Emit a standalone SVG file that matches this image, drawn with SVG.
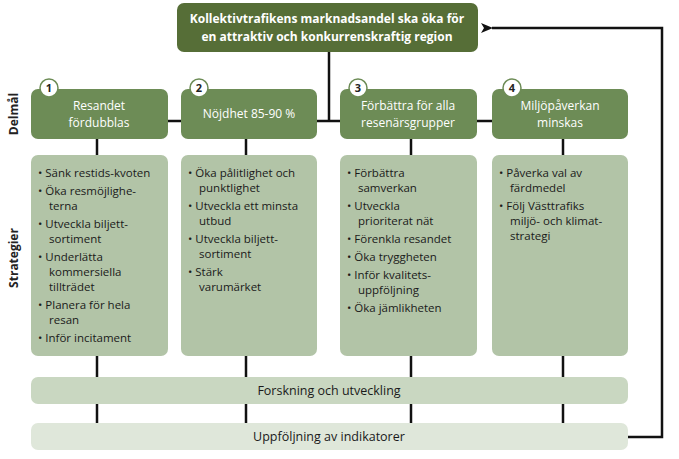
<svg xmlns="http://www.w3.org/2000/svg" width="679" height="459" viewBox="0 0 679 459">
<style>
text{font-family:"Open Sans","Noto Sans",sans-serif;}
.t{fill:#fff;font-size:12px;text-anchor:middle}
.s{fill:#1a1a1a;font-size:11.5px}
.g{fill:#6d8c56}
.st{fill:#b2c4a7}
.num{fill:#fff;stroke:#6d8c56;stroke-width:1.5}
.n{font-size:11px;font-weight:bold;text-anchor:middle;fill:#222}
.ln{stroke:#111;stroke-width:2.5;fill:none}
.lab{font-size:12px;font-weight:bold;fill:#222;text-anchor:middle}
</style>
<defs><marker id="ar" markerWidth="12" markerHeight="10" refX="1" refY="5" orient="auto" markerUnits="userSpaceOnUse"><path d="M12,0 L0,5 L12,10 L9,5z" fill="#111"/></marker></defs>
<g id="connectors">
<line class="ln" x1="329" y1="52" x2="329" y2="121"/>
<line class="ln" x1="168" y1="121" x2="492" y2="121"/>
<line class="ln" x1="97" y1="139" x2="97" y2="155"/>
<line class="ln" x1="246" y1="139" x2="246" y2="155"/>
<line class="ln" x1="411" y1="139" x2="411" y2="155"/>
<line class="ln" x1="563" y1="139" x2="563" y2="155"/>
<g>
<line class="ln" x1="97" y1="356" x2="97" y2="377"/><line class="ln" x1="246" y1="356" x2="246" y2="377"/><line class="ln" x1="411" y1="356" x2="411" y2="377"/><line class="ln" x1="563" y1="356" x2="563" y2="377"/>
<line class="ln" x1="97" y1="404" x2="97" y2="423"/><line class="ln" x1="246" y1="404" x2="246" y2="423"/><line class="ln" x1="411" y1="404" x2="411" y2="423"/><line class="ln" x1="563" y1="404" x2="563" y2="423"/>
</g>
<polyline class="ln" points="628,437 662,437 662,28 492,28" marker-end="url(#ar)"/>
</g>
<g id="goal"><rect x="177" y="3" width="301" height="49" rx="7" fill="#566e37"/>
<text class="t" x="327" y="23" font-weight="bold" font-size="12.5">Kollektivtrafikens marknadsandel ska öka för</text>
<text class="t" x="327" y="41" font-weight="bold" font-size="12.5">en attraktiv och konkurrenskraftig region</text></g>
<text class="lab" transform="translate(18,114) rotate(-90)">Delmål</text>
<text class="lab" transform="translate(18,258) rotate(-90)">Strategier</text>
<g id="d1"><rect class="g" x="31" y="89" width="137" height="50" rx="7"/><text class="t" x="99" y="110">Resandet</text><text class="t" x="99" y="127">fördubblas</text><circle class="num" cx="49" cy="88" r="9"/><text class="n" x="49" y="92">1</text></g>
<g id="d2"><rect class="g" x="181" y="89" width="136" height="50" rx="7"/><text class="t" x="249" y="118">Nöjdhet 85-90 %</text><circle class="num" cx="199" cy="88" r="9"/><text class="n" x="199" y="92">2</text></g>
<g id="d3"><rect class="g" x="340" y="89" width="137" height="50" rx="7"/><text class="t" x="408" y="110">Förbättra för alla</text><text class="t" x="408" y="127">resenärsgrupper</text><circle class="num" cx="358" cy="88" r="9"/><text class="n" x="358" y="92">3</text></g>
<g id="d4"><rect class="g" x="492" y="89" width="136" height="50" rx="7"/><text class="t" x="560" y="110">Miljöpåverkan</text><text class="t" x="560" y="127">minskas</text><circle class="num" cx="512" cy="88" r="9"/><text class="n" x="512" y="92">4</text></g>
<g id="s1"><rect class="st" x="31" y="155" width="137" height="201" rx="7"/>
<text class="s" x="38" y="177">• Sänk restids-kvoten</text>
<text class="s" x="38" y="195">• Öka resmöjlighe-</text><text class="s" x="49" y="210">terna</text>
<text class="s" x="38" y="228">• Utveckla biljett-</text><text class="s" x="49" y="243">sortiment</text>
<text class="s" x="38" y="261">• Underlätta</text><text class="s" x="49" y="276">kommersiella</text><text class="s" x="49" y="291">tillträdet</text>
<text class="s" x="38" y="309">• Planera för hela</text><text class="s" x="49" y="324">resan</text>
<text class="s" x="38" y="342">• Inför incitament</text></g>
<g id="s2"><rect class="st" x="181" y="155" width="136" height="201" rx="7"/>
<text class="s" x="188" y="177">• Öka pålitlighet och</text><text class="s" x="199" y="192">punktlighet</text>
<text class="s" x="188" y="210">• Utveckla ett minsta</text><text class="s" x="199" y="225">utbud</text>
<text class="s" x="188" y="243">• Utveckla biljett-</text><text class="s" x="199" y="258">sortiment</text>
<text class="s" x="188" y="276">• Stärk</text><text class="s" x="199" y="291">varumärket</text></g>
<g id="s3"><rect class="st" x="340" y="155" width="137" height="201" rx="7"/>
<text class="s" x="347" y="177">• Förbättra</text><text class="s" x="358" y="192">samverkan</text>
<text class="s" x="347" y="210">• Utveckla</text><text class="s" x="358" y="225">prioriterat nät</text>
<text class="s" x="347" y="243">• Förenkla resandet</text>
<text class="s" x="347" y="261">• Öka tryggheten</text>
<text class="s" x="347" y="279">• Inför kvalitets-</text><text class="s" x="358" y="294">uppföljning</text>
<text class="s" x="347" y="312">• Öka jämlikheten</text></g>
<g id="s4"><rect class="st" x="492" y="155" width="136" height="201" rx="7"/>
<text class="s" x="499" y="177">• Påverka val av</text><text class="s" x="510" y="192">färdmedel</text>
<text class="s" x="499" y="210">• Följ Västtrafiks</text><text class="s" x="510" y="225">miljö- och klimat-</text><text class="s" x="510" y="240">strategi</text></g>
<g id="fou"><rect x="31" y="377" width="597" height="27" rx="7" fill="#c9d7c1"/><text x="329" y="395" font-size="12.5" text-anchor="middle" fill="#1a1a1a">Forskning och utveckling</text></g>
<g id="upp"><rect x="31" y="423" width="597" height="27" rx="7" fill="#dfe7da"/><text x="329" y="441" font-size="12.5" text-anchor="middle" fill="#1a1a1a">Uppföljning av indikatorer</text></g>
</svg>
